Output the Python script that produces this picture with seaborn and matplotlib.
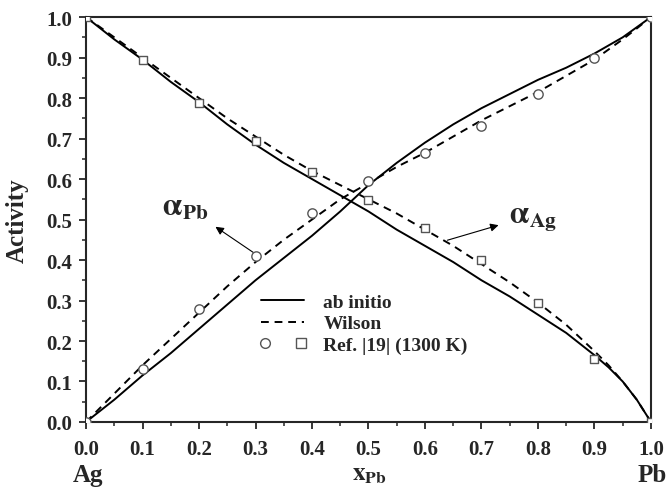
import numpy as np
import pandas as pd
import matplotlib
matplotlib.use("Agg")
import matplotlib.pyplot as plt
import seaborn as sns
from matplotlib.lines import Line2D
from matplotlib.legend_handler import HandlerTuple
from matplotlib.ticker import MultipleLocator

# composition grid for the model curves
x_curve = [0.0, 0.05, 0.1, 0.15, 0.2, 0.25, 0.3, 0.35, 0.4, 0.45, 0.5,
           0.55, 0.6, 0.65, 0.7, 0.75, 0.8, 0.85, 0.9, 0.925, 0.95, 0.975, 1.0]

# ab initio
pb_abinitio = [0.0, 0.055, 0.115, 0.17, 0.23, 0.29, 0.35, 0.405, 0.46, 0.52, 0.585,
               0.64, 0.69, 0.735, 0.775, 0.81, 0.845, 0.875, 0.91, 0.93, 0.95, 0.975, 1.0]
ag_abinitio = [1.0, 0.945, 0.895, 0.84, 0.79, 0.735, 0.685, 0.64, 0.6, 0.56, 0.52,
               0.475, 0.435, 0.395, 0.35, 0.31, 0.265, 0.22, 0.165, 0.135, 0.1, 0.055, 0.0]

# Wilson
pb_wilson = [0.0, 0.07, 0.14, 0.205, 0.27, 0.335, 0.395, 0.45, 0.5, 0.55, 0.59,
             0.63, 0.665, 0.705, 0.745, 0.78, 0.815, 0.855, 0.895, 0.92, 0.945, 0.972, 1.0]
ag_wilson = [1.0, 0.95, 0.9, 0.85, 0.8, 0.75, 0.705, 0.66, 0.62, 0.585, 0.55,
             0.515, 0.475, 0.435, 0.39, 0.345, 0.295, 0.24, 0.175, 0.14, 0.1, 0.055, 0.0]

# Ref. [19] (1300 K)
x_ref = [0.0, 0.1, 0.2, 0.3, 0.4, 0.5, 0.6, 0.7, 0.8, 0.9, 1.0]
pb_ref = [0.0, 0.13, 0.28, 0.41, 0.515, 0.595, 0.665, 0.73, 0.81, 0.90, 1.0]
ag_ref = [1.0, 0.893, 0.787, 0.693, 0.617, 0.548, 0.48, 0.40, 0.295, 0.155, 0.0]

sns.set_style("ticks")
plt.rcParams["font.family"] = ["Liberation Serif", "DejaVu Serif"]
plt.rcParams["font.weight"] = "bold"
plt.rcParams["mathtext.fontset"] = "stix"

fig = plt.figure(figsize=(6.69, 4.89), dpi=100)
ax = fig.add_axes([0.1286, 0.135, 0.8444, 0.828])

lw = 1.4
for y in (pb_abinitio, ag_abinitio):
    sns.lineplot(x=x_curve, y=y, ax=ax, color="black", linewidth=lw, sort=False)
for y in (pb_wilson, ag_wilson):
    sns.lineplot(x=x_curve, y=y, ax=ax, color="black", linewidth=lw, sort=False,
                 linestyle=(0, (4, 3)))

sns.scatterplot(x=x_ref, y=pb_ref, ax=ax, marker="o", s=45, facecolor="white",
                edgecolor="#555555", linewidth=1.0, zorder=5)
sns.scatterplot(x=x_ref, y=ag_ref, ax=ax, marker="s", s=40, facecolor="white",
                edgecolor="#555555", linewidth=1.0, zorder=5)

ax.set_xlim(0, 1)
ax.set_ylim(0, 1)
ax.xaxis.set_major_locator(MultipleLocator(0.1))
ax.xaxis.set_minor_locator(MultipleLocator(0.05))
ax.yaxis.set_major_locator(MultipleLocator(0.1))
ax.yaxis.set_minor_locator(MultipleLocator(0.05))
ax.tick_params(which="major", direction="out", length=5, width=1.3, labelsize=15,
               top=False, right=False)
ax.tick_params(which="minor", direction="out", length=3, width=1.1,
               top=False, right=False)
ax.tick_params(axis="x", which="major", pad=7)
ax.tick_params(axis="y", which="major", pad=5)
for lab in ax.get_xticklabels() + ax.get_yticklabels():
    lab.set_fontweight("bold")
for sp in ax.spines.values():
    sp.set_linewidth(1.5)
    sp.set_visible(True)

ax.set_ylabel("Activity", fontsize=18, fontweight="bold")
ax.yaxis.set_label_coords(-0.101, 0.5)
ax.set_xlabel("")
fig.text(0.552, 0.018, r"$\mathbf{x}_{\mathbf{Pb}}$", fontsize=18, ha="center", va="baseline")
fig.text(0.108, 0.014, "Ag", fontsize=18, fontweight="bold", ha="left", va="baseline")
fig.text(0.953, 0.014, "Pb", fontsize=18, fontweight="bold", ha="left", va="baseline")

# annotations
ax.annotate("", xy=(0.225, 0.486), xytext=(0.30, 0.415),
            arrowprops=dict(arrowstyle="-|>", color="black", lw=0.8, mutation_scale=12))
ax.text(0.135, 0.53, r"$\mathrm{\alpha}_{\mathbf{Pb}}$", fontsize=22, ha="left", va="center")
ax.annotate("", xy=(0.735, 0.488), xytext=(0.635, 0.447),
            arrowprops=dict(arrowstyle="-|>", color="black", lw=0.8, mutation_scale=12))
ax.text(0.748, 0.505, r"$\mathrm{\alpha}_{\mathbf{Ag}}$", fontsize=22, ha="left", va="center")

# legend
h_solid = Line2D([], [], color="black", linewidth=lw)
h_dash = Line2D([], [], color="black", linewidth=lw, linestyle=(0, (4, 3)))
h_circ = Line2D([], [], marker="o", linestyle="none", markersize=7,
                markerfacecolor="white", markeredgecolor="#555555")
h_sq = Line2D([], [], marker="s", linestyle="none", markersize=6.5,
              markerfacecolor="white", markeredgecolor="#555555")
ax.legend([h_solid, h_dash, (h_circ, h_sq)],
          ["ab initio", "Wilson", "Ref. |19| (1300 K)"],
          handler_map={tuple: HandlerTuple(ndivide=None, pad=1.5)},
          loc="upper left", bbox_to_anchor=(0.31, 0.318), frameon=False,
          handlelength=2.2, handletextpad=1.0, labelspacing=0.2,
          borderpad=0, borderaxespad=0,
          prop={"weight": "bold", "size": 14})

ax.get_legend().set_zorder(10)
fig.savefig("out.png", dpi=100)
